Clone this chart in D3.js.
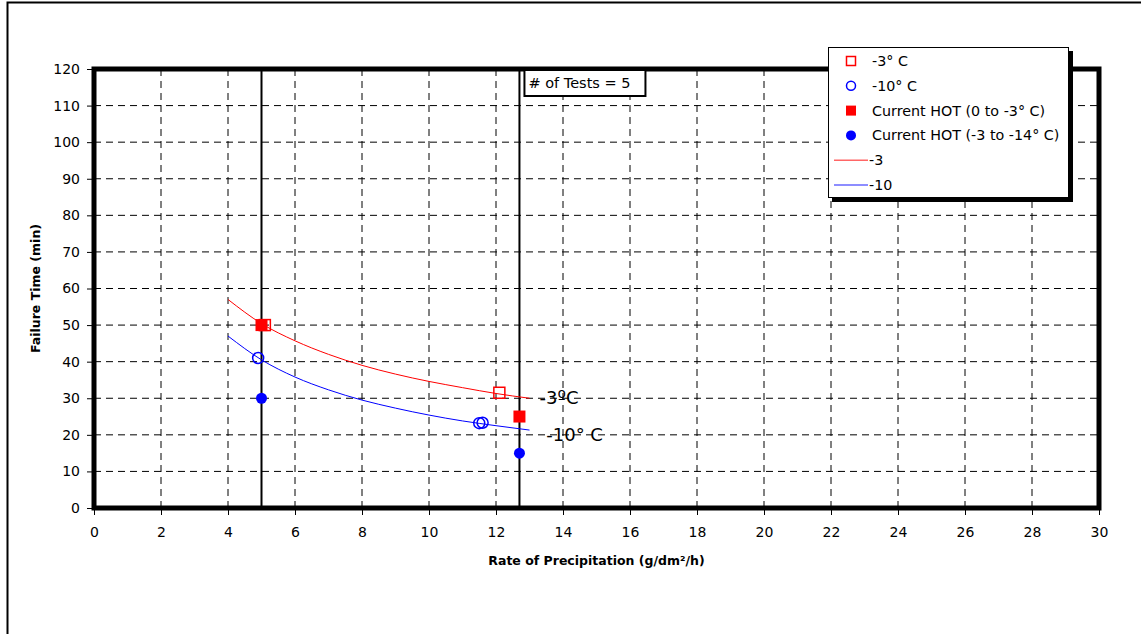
<!DOCTYPE html>
<html>
<head>
<meta charset="utf-8">
<script src="https://cdn.jsdelivr.net/npm/d3@7"></script>
<style>
  body { margin: 0; background: #fff; }
  text { font-family: "DejaVu Sans", sans-serif; }
</style>
</head>
<body>
<div id="graph"></div>
<script>
// data
let xTicks = [0, 2, 4, 6, 8, 10, 12, 14, 16, 18, 20, 22, 24, 26, 28, 30]
let yTicks = [0, 10, 20, 30, 40, 50, 60, 70, 80, 90, 100, 110, 120]

let minus3 = [[5.1, 50], [12.1, 31.5]]
let minus10 = [[4.9, 41], [11.5, 23.2], [11.6, 23.3]]
let hotSquares = [[5, 50], [12.7, 25]]
let hotCircles = [[5, 30], [12.7, 15]]

// trend lines
let trend3 = [[4, 57], [5, 50.4], [6, 45.7], [7, 42], [8, 39], [9, 36.6], [10, 34.6], [11, 32.9], [12, 31.3], [13, 30]]
let trend10 = [[4, 47], [5, 40.5], [6, 35.8], [7, 32.3], [8, 29.5], [9, 27.3], [10, 25.4], [11, 23.8], [12, 22.5], [13, 21.3]]

let testLines = [5, 12.7]

let W = 1141, H = 634
let margin = {top: 69, left: 94, right: 42, bottom: 126}
let width = W - margin.left - margin.right,
    height = H - margin.top - margin.bottom

let svg = d3.select("#graph").append("svg")
  .attr("width", W).attr("height", H)

// outer border
svg.append("path")
  .attr("d", "M7.5,640 V2.5 H1145")
  .attr("fill", "none").attr("stroke", "#000").attr("stroke-width", 2)

let g = svg.append("g").attr("transform", "translate(" + margin.left + "," + margin.top + ")")

let x = d3.scaleLinear().domain([0, 30]).range([0, width])
let y = d3.scaleLinear().domain([0, 120]).range([height, 0])

// grid
g.append("g").selectAll("line").data(yTicks.slice(1, -1)).join("line")
  .attr("x1", 0).attr("x2", width)
  .attr("y1", d => y(d)).attr("y2", d => y(d))
  .attr("stroke", "#000").attr("stroke-dasharray", "7,5")
g.append("g").selectAll("line").data(xTicks.slice(1, -1)).join("line")
  .attr("y1", 0).attr("y2", height)
  .attr("x1", d => x(d)).attr("x2", d => x(d))
  .attr("stroke", "#000").attr("stroke-dasharray", "7,5")

// axes
let xAxis = g.append("g").attr("transform", "translate(0," + height + ")")
  .call(d3.axisBottom(x).tickValues(xTicks).tickSize(7).tickPadding(12).tickFormat(d3.format("d")))
let yAxis = g.append("g")
  .call(d3.axisLeft(y).tickValues(yTicks).tickSize(7).tickPadding(7).tickFormat(d3.format("d")))
;[xAxis, yAxis].forEach(a => {
  a.select(".domain").remove()
  a.selectAll("text").attr("font-size", 14).attr("font-family", "DejaVu Sans").attr("fill", "#000")
})

// vertical test lines
g.append("g").selectAll("line").data(testLines).join("line")
  .attr("x1", d => x(d)).attr("x2", d => x(d))
  .attr("y1", 0).attr("y2", height)
  .attr("stroke", "#000").attr("stroke-width", 2)

// frame
g.append("rect").attr("width", width).attr("height", height)
  .attr("fill", "none").attr("stroke", "#000").attr("stroke-width", 5)

// trend lines
let line = d3.line().x(d => x(d[0])).y(d => y(d[1])).curve(d3.curveMonotoneX)
g.append("path").datum(trend3).attr("d", line)
  .attr("fill", "none").attr("stroke", "#ff0000").attr("stroke-width", 1)
g.append("path").datum(trend10).attr("d", line)
  .attr("fill", "none").attr("stroke", "#0000ff").attr("stroke-width", 1)

// markers
g.append("g").selectAll("rect").data(hotSquares).join("rect")
  .attr("x", d => x(d[0]) - 6).attr("y", d => y(d[1]) - 6)
  .attr("width", 12).attr("height", 12).attr("fill", "#ff0000")
g.append("g").selectAll("rect").data(minus3).join("rect")
  .attr("x", d => x(d[0]) - 5.5).attr("y", d => y(d[1]) - 5.5)
  .attr("width", 11).attr("height", 11).attr("fill", "none")
  .attr("stroke", "#ff0000").attr("stroke-width", 1.5)
g.append("g").selectAll("circle").data(hotCircles).join("circle")
  .attr("cx", d => x(d[0])).attr("cy", d => y(d[1])).attr("r", 5.5)
  .attr("fill", "#0000ff")
g.append("g").selectAll("circle").data(minus10).join("circle")
  .attr("cx", d => x(d[0])).attr("cy", d => y(d[1])).attr("r", 5.5)
  .attr("fill", "none").attr("stroke", "#0000ff").attr("stroke-width", 1.5)

// curve labels
g.append("text").attr("x", x(13.3)).attr("y", y(30) + 6)
  .attr("font-size", 18).text("-3ºC")
g.append("text").attr("x", x(13.5)).attr("y", y(20) + 6)
  .attr("font-size", 18).text("-10° C")

// "# of Tests" box
let tb = g.append("g").attr("transform", "translate(" + (x(12.7) + 5) + ",1)")
tb.append("rect").attr("width", 121).attr("height", 26)
  .attr("fill", "#fff").attr("stroke", "#000").attr("stroke-width", 2)
tb.append("text").attr("x", 4).attr("y", 18).attr("font-size", 14.5).text("# of Tests = 5")

// axis titles
svg.append("text").attr("x", margin.left + width / 2).attr("y", 565)
  .attr("text-anchor", "middle").attr("font-size", 12.5).attr("font-weight", "bold")
  .text("Rate of Precipitation (g/dm²/h)")
svg.append("text").attr("transform", "translate(40," + (margin.top + height / 2) + ") rotate(-90)")
  .attr("text-anchor", "middle").attr("font-size", 12.5).attr("font-weight", "bold")
  .text("Failure Time (min)")

// legend
let legendItems = [
  {label: "-3° C", type: "sq-open", color: "#ff0000"},
  {label: "-10° C", type: "ci-open", color: "#0000ff"},
  {label: "Current HOT (0 to -3° C)", type: "sq", color: "#ff0000"},
  {label: "Current HOT (-3 to -14° C)", type: "ci", color: "#0000ff"},
  {label: "-3", type: "line", color: "#ff0000"},
  {label: "-10", type: "line", color: "#0000ff"}
]
let lg = svg.append("g").attr("transform", "translate(828,47)")
lg.append("rect").attr("x", 4).attr("y", 4).attr("width", 241).attr("height", 151).attr("fill", "#000")
lg.append("rect").attr("x", 0.5).attr("y", 0.5).attr("width", 240).attr("height", 150)
  .attr("fill", "#fff").attr("stroke", "#000")
let rows = lg.selectAll(".row").data(legendItems).join("g")
  .attr("transform", (d, i) => "translate(0," + (14 + i * 24.8) + ")")
rows.each(function (d) {
  let r = d3.select(this)
  if (d.type == "sq-open") r.append("rect").attr("x", 18.5).attr("y", -4.5).attr("width", 9).attr("height", 9)
    .attr("fill", "none").attr("stroke", d.color).attr("stroke-width", 1.5)
  if (d.type == "sq") r.append("rect").attr("x", 18).attr("y", -5).attr("width", 10).attr("height", 10).attr("fill", d.color)
  if (d.type == "ci-open") r.append("circle").attr("cx", 23).attr("r", 4.5)
    .attr("fill", "none").attr("stroke", d.color).attr("stroke-width", 1.5)
  if (d.type == "ci") r.append("circle").attr("cx", 23).attr("r", 5).attr("fill", d.color)
  if (d.type == "line") r.append("line").attr("x1", 6).attr("x2", 40)
    .attr("stroke", d.color).attr("stroke-opacity", 0.6).attr("stroke-width", 1.5)
  r.append("text").attr("x", d.type == "line" ? 41 : 44).attr("y", 5).attr("font-size", 14.3).text(d.label)
})
</script>
</body>
</html>
